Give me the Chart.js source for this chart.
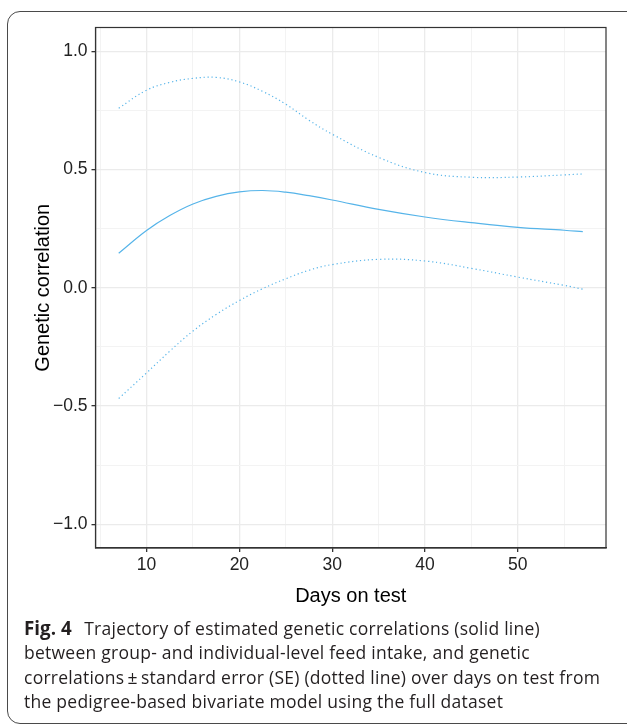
<!DOCTYPE html>
<html>
<head>
<meta charset="utf-8">
<script src="https://cdn.jsdelivr.net/npm/chart.js@4"></script>
<style>
  html, body { margin: 0; padding: 0; background: #fff; overflow: hidden; }
  body { width: 627px; height: 728px; position: relative; }
  #frame {
    position: absolute; left: 7px; top: 11px; width: 640px; height: 713px;
    border: 1.5px solid #4a4a4a; border-radius: 13px; box-sizing: border-box;
  }
  #chart { position: absolute; left: 0; top: 0; }
  #caption {
    position: absolute; left: 24px; top: 616.4px; width: 600px;
    font-family: "Open Sans", sans-serif; font-size: 17.5px; line-height: 24.1px;
    color: #231f20; white-space: nowrap; letter-spacing: 0.25px;
  }
  #caption b { font-weight: 700; letter-spacing: 0; font-size: 18.8px; margin-right: 3px; }
</style>
</head>
<body>
<div id="frame"></div>
<canvas id="chart" width="627" height="620"></canvas>
<div id="caption"><b>Fig. 4</b>&nbsp; Trajectory of estimated genetic correlations (solid line)<br>between group- and individual-level feed intake, and genetic<br>correlations&thinsp;±&thinsp;standard error (SE) (dotted line) over days on test from<br>the pedigree-based bivariate model using the full dataset</div>
<script>
// days on test
var days = [7, 10, 12.5, 15, 17.5, 20, 22.5, 25, 27.5, 30, 35, 40, 45, 50, 55, 57];
// estimated genetic correlation (solid)
var rg = [0.146, 0.242, 0.305, 0.354, 0.386, 0.405, 0.411, 0.404, 0.389, 0.371, 0.331, 0.299, 0.275, 0.255, 0.243, 0.237];
// correlation + SE (dotted)
var rgUpper = [0.759, 0.835, 0.868, 0.885, 0.889, 0.870, 0.830, 0.776, 0.708, 0.649, 0.551, 0.487, 0.467, 0.468, 0.477, 0.481];
// correlation - SE (dotted)
var rgLower = [-0.468, -0.360, -0.268, -0.183, -0.113, -0.054, -0.004, 0.038, 0.074, 0.098, 0.120, 0.113, 0.082, 0.045, 0.010, -0.006];

var xTicks = [5, 10, 15, 20, 25, 30, 35, 40, 45, 50, 55];
var xLabels = [10, 20, 30, 40, 50];
var yTicks = [-1, -0.75, -0.5, -0.25, 0, 0.25, 0.5, 0.75, 1];
var yLabels = [-1, -0.5, 0, 0.5, 1];

var lineColor = '#56B4E9';

function points(ys) {
    return days.map(function (d, i) { return { x: d, y: ys[i] }; });
}

function isLabel(list, v) {
    return list.some(function (l) { return Math.abs(l - v) < 1e-9; });
}

var panelBorder = {
    id: 'panelBorder',
    afterDraw: function (chart) {
        var a = chart.chartArea, ctx = chart.ctx;
        ctx.save();
        ctx.strokeStyle = '#333';
        ctx.lineWidth = 1.2;
        ctx.strokeRect(a.left, a.top, a.right - a.left, a.bottom - a.top);
        ctx.restore();
    }
};

var ctx = document.getElementById('chart').getContext('2d');
var chart = new Chart(ctx, {
    type: 'line',
    data: {
        datasets: [{
            label: 'Genetic correlation',
            data: points(rg),
            borderColor: lineColor,
            borderWidth: 1.2
        }, {
            label: '+SE',
            data: points(rgUpper),
            borderColor: lineColor,
            borderWidth: 1.2,
            borderDash: [1.2, 2.8]
        }, {
            label: '-SE',
            data: points(rgLower),
            borderColor: lineColor,
            borderWidth: 1.2,
            borderDash: [1.2, 2.8]
        }]
    },
    options: {
        responsive: false,
        animation: false,
        devicePixelRatio: 1,
        layout: { padding: { left: 0, right: 21, top: 27.5, bottom: 0 } },
        elements: {
            point: { radius: 0 },
            line: { tension: 0.4, fill: false }
        },
        plugins: {
            legend: { display: false },
            tooltip: { enabled: false }
        },
        scales: {
            x: {
                type: 'linear',
                min: 4.5,
                max: 59.5,
                afterBuildTicks: function (scale) {
                    scale.ticks = xTicks.map(function (v) { return { value: v }; });
                },
                afterFit: function (scale) { scale.height = 72; },
                border: { display: true, color: '#333', width: 1.2 },
                grid: {
                    color: function (c) { return isLabel(xLabels, c.tick.value) ? '#EBEBEB' : '#F3F3F3'; },
                    lineWidth: function (c) { return isLabel(xLabels, c.tick.value) ? 1.3 : 1; },
                    tickColor: function (c) { return isLabel(xLabels, c.tick.value) ? '#333' : 'rgba(0,0,0,0)'; },
                    tickLength: 4
                },
                ticks: {
                    autoSkip: false,
                    maxRotation: 0,
                    padding: 3,
                    color: '#222',
                    font: { family: '"Liberation Sans", Arial, sans-serif', size: 17.5 },
                    callback: function (v) { return isLabel(xLabels, v) ? String(v) : ''; }
                },
                title: {
                    display: true,
                    text: 'Days on test',
                    color: '#000',
                    font: { family: '"Liberation Sans", Arial, sans-serif', size: 20 },
                    padding: { top: 0, bottom: 12 }
                }
            },
            y: {
                type: 'linear',
                min: -1.1,
                max: 1.1,
                afterBuildTicks: function (scale) {
                    scale.ticks = yTicks.map(function (v) { return { value: v }; });
                },
                afterFit: function (scale) { scale.width = 95.5; },
                border: { display: true, color: '#333', width: 1.2 },
                grid: {
                    color: function (c) { return isLabel(yLabels, c.tick.value) ? '#EBEBEB' : '#F3F3F3'; },
                    lineWidth: function (c) { return isLabel(yLabels, c.tick.value) ? 1.3 : 1; },
                    tickColor: function (c) { return isLabel(yLabels, c.tick.value) ? '#333' : 'rgba(0,0,0,0)'; },
                    tickLength: 4
                },
                ticks: {
                    autoSkip: false,
                    padding: 4,
                    color: '#222',
                    font: { family: '"Liberation Sans", Arial, sans-serif', size: 17.5 },
                    callback: function (v) {
                        return isLabel(yLabels, v) ? v.toFixed(1).replace('-', '\u2212') : '';
                    }
                },
                title: {
                    display: true,
                    text: 'Genetic correlation',
                    color: '#000',
                    font: { family: '"Liberation Sans", Arial, sans-serif', size: 20 },
                    padding: { top: 31, bottom: 0 }
                }
            }
        }
    },
    plugins: [panelBorder]
});
</script>
</body>
</html>
